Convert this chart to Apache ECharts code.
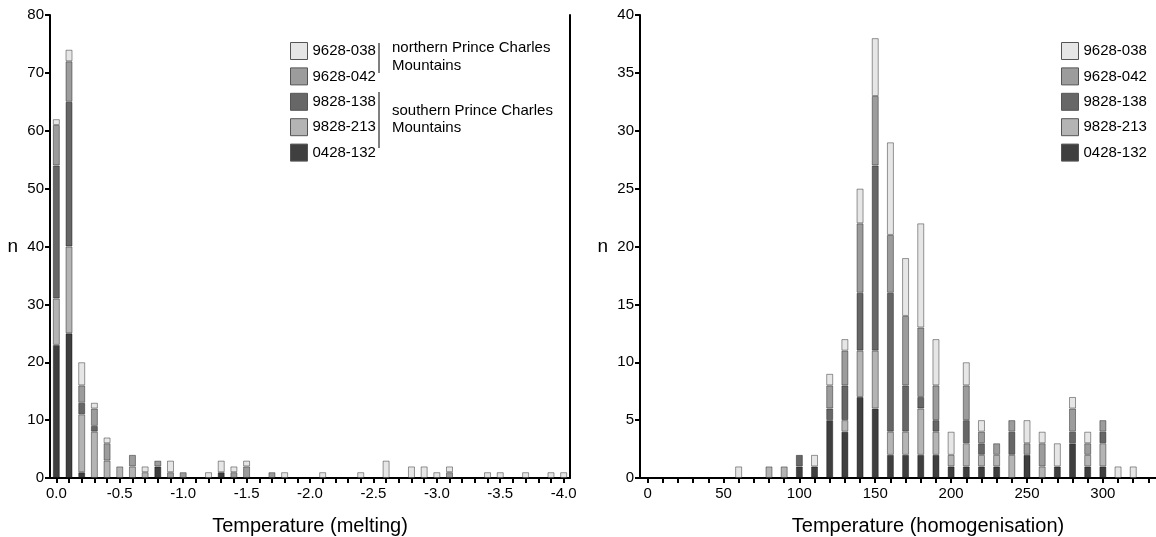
<!DOCTYPE html>
<html>
<head>
<meta charset="utf-8">
<script src="https://cdn.jsdelivr.net/npm/echarts@6/dist/echarts.min.js"></script>
<style>
html,body{margin:0;padding:0;background:#fff;}
#c{width:1156px;height:537px;}
</style>
</head>
<body>
<div id="c"></div>
<script>
// ---------- DATA ----------
var seriesNames = ['9628-038', '9628-042', '9828-138', '9828-213', '0428-132'];
// Left: melting temperature categories 0.0 .. -4.0 step 0.1
var meltCats = ['0.0','-0.1','-0.2','-0.3','-0.4','-0.5','-0.6','-0.7','-0.8','-0.9',
  '-1.0','-1.1','-1.2','-1.3','-1.4','-1.5','-1.6','-1.7','-1.8','-1.9',
  '-2.0','-2.1','-2.2','-2.3','-2.4','-2.5','-2.6','-2.7','-2.8','-2.9',
  '-3.0','-3.1','-3.2','-3.3','-3.4','-3.5','-3.6','-3.7','-3.8','-3.9','-4.0'];
var melt_0428_132 = [23,25,1,0,0,0,0,0,2,0, 0,0,0,1,0,0,0,0,0,0, 0,0,0,0,0,0,0,0,0,0, 0,0,0,0,0,0,0,0,0,0,0];
var melt_9828_213 = [8,15,10,8,3,2,2,1,0,0, 0,0,0,0,0,0,0,0,0,0, 0,0,0,0,0,0,0,0,0,0, 0,0,0,0,0,0,0,0,0,0,0];
var melt_9828_138 = [23,25,2,1,0,0,0,0,0,0, 0,0,0,0,0,0,0,0,0,0, 0,0,0,0,0,0,0,0,0,0, 0,0,0,0,0,0,0,0,0,0,0];
var melt_9628_042 = [7,7,3,3,3,0,2,0,1,1, 1,0,0,0,1,2,0,1,0,0, 0,0,0,0,0,0,0,0,0,0, 0,1,0,0,0,0,0,0,0,0,0];
var melt_9628_038 = [1,2,4,1,1,0,0,1,0,2, 0,0,1,2,1,1,0,0,1,0, 0,1,0,0,1,0,3,0,2,2, 1,1,0,0,1,1,0,1,0,1,1];

// Right: homogenisation temperature categories 0 .. 330 step 10
var homCats = ['0','10','20','30','40','50','60','70','80','90',
  '100','110','120','130','140','150','160','170','180','190',
  '200','210','220','230','240','250','260','270','280','290',
  '300','310','320','330'];
var hom_0428_132 = [0,0,0,0,0,0,0,0,0,0, 1,1,5,4,7,6,2,2,2,2, 1,1,1,1,0,2,0,1,3,1, 1,0,0,0];
var hom_9828_213 = [0,0,0,0,0,0,0,0,1,1, 0,0,0,1,4,5,2,2,4,2, 1,2,1,1,2,0,1,0,0,1, 2,0,0,0];
var hom_9828_138 = [0,0,0,0,0,0,0,0,0,0, 1,0,1,3,5,16,12,4,1,1, 0,2,1,0,2,0,0,0,1,0, 1,0,0,0];
var hom_9628_042 = [0,0,0,0,0,0,0,0,0,0, 0,0,2,3,6,6,5,6,6,3, 0,3,1,1,1,1,2,0,2,1, 1,0,0,0];
var hom_9628_038 = [0,0,0,0,0,0,1,0,0,0, 0,1,1,1,3,5,8,5,9,4, 2,2,1,0,0,2,1,2,1,1, 0,1,1,0];

// ---------- STYLE ----------
var colors = {
  '9628-038': '#e6e6e6',
  '9628-042': '#9c9c9c',
  '9828-138': '#676767',
  '9828-213': '#b4b4b4',
  '0428-132': '#3f3f3f'
};
var FONT = 'Liberation Sans, Arial, Helvetica, sans-serif';

function nz(arr){ return arr.map(function(v){ return v === 0 ? '-' : v; }); }

var meltData = {'0428-132': melt_0428_132, '9828-213': melt_9828_213, '9828-138': melt_9828_138, '9628-042': melt_9628_042, '9628-038': melt_9628_038};
var homData = {'0428-132': hom_0428_132, '9828-213': hom_9828_213, '9828-138': hom_9828_138, '9628-042': hom_9628_042, '9628-038': hom_9628_038};
var stackOrder = ['0428-132', '9828-213', '9828-138', '9628-042', '9628-038'];

var series = [];
stackOrder.forEach(function(name){
  series.push({
    name: name, type: 'bar', stack: 'melt', xAxisIndex: 0, yAxisIndex: 0,
    barWidth: 7, data: nz(meltData[name]),
    itemStyle: {color: colors[name], borderColor: 'rgba(0,0,0,0.4)', borderWidth: 1},
    emphasis: {disabled: true}, animation: false
  });
});
stackOrder.forEach(function(name){
  series.push({
    name: name, type: 'bar', stack: 'hom', xAxisIndex: 1, yAxisIndex: 2,
    barWidth: 7, data: nz(homData[name]),
    itemStyle: {color: colors[name], borderColor: 'rgba(0,0,0,0.4)', borderWidth: 1},
    emphasis: {disabled: true}, animation: false
  });
});

var axisLine = {show: true, lineStyle: {color: '#000', width: 2}};
var axisTick = {show: true, length: 5, inside: false, lineStyle: {color: '#000', width: 2}};
var axisLabel = {color: '#000', fontSize: 15, fontFamily: FONT};

function xCat(grid, cats, name, shift){
  return {
    type: 'category', gridIndex: grid, data: cats, boundaryGap: true,
    axisLine: axisLine,
    axisTick: {show: true, alignWithLabel: true, interval: 0, length: 5, lineStyle: {color: '#000', width: 2}},
    axisLabel: Object.assign({interval: 4, margin: 8}, axisLabel),
    name: name, nameLocation: 'middle', nameGap: 38,
    nameTextStyle: {color: '#000', fontSize: 20, fontFamily: FONT, padding: [0, 0, 0, shift * 2]},
    splitLine: {show: false}
  };
}

var legendBase = {
  orient: 'vertical', itemWidth: 17, itemHeight: 17, itemGap: 7.4,
  icon: 'rect', data: seriesNames, selectedMode: false,
  textStyle: {color: '#000', fontSize: 15, fontFamily: FONT},
  itemStyle: {borderColor: '#555', borderWidth: 1}
};

var option = {
  backgroundColor: '#fff',
  animation: false,
  grid: [
    {left: 50, top: 15, width: 520, height: 463, containLabel: false, outerBoundsMode: 'none'},
    {left: 640, top: 15, width: 516, height: 463, containLabel: false, outerBoundsMode: 'none'}
  ],
  xAxis: [
    xCat(0, meltCats, 'Temperature (melting)', 0),
    xCat(1, homCats, 'Temperature (homogenisation)', 30)
  ],
  yAxis: [
    {type: 'value', gridIndex: 0, min: 0, max: 80, interval: 10,
     axisLine: axisLine, axisTick: axisTick, axisLabel: Object.assign({margin: 6}, axisLabel),
     splitLine: {show: false},
     name: 'n', nameLocation: 'middle', nameRotate: 0, nameGap: 32,
     nameTextStyle: {color: '#000', fontSize: 19, fontFamily: FONT}},
    {type: 'value', gridIndex: 0, position: 'right', min: 0, max: 80, interval: 10,
     axisLine: axisLine, axisTick: {show: false}, axisLabel: {show: false}, splitLine: {show: false}},
    {type: 'value', gridIndex: 1, min: 0, max: 40, interval: 5,
     axisLine: axisLine, axisTick: axisTick, axisLabel: Object.assign({margin: 6}, axisLabel),
     splitLine: {show: false},
     name: 'n', nameLocation: 'middle', nameRotate: 0, nameGap: 32,
     nameTextStyle: {color: '#000', fontSize: 19, fontFamily: FONT}}
  ],
  legend: [
    Object.assign({left: 285, top: 37}, legendBase),
    Object.assign({left: 1056, top: 37}, legendBase)
  ],
  graphic: [
    {type: 'line', shape: {x1: 379, y1: 43, x2: 379, y2: 73}, style: {stroke: '#000', lineWidth: 1}},
    {type: 'line', shape: {x1: 379, y1: 92, x2: 379, y2: 148}, style: {stroke: '#000', lineWidth: 1}},
    {type: 'text', left: 392, top: 39.5, style: {text: 'northern Prince Charles\nMountains', fill: '#000', font: '15px ' + FONT, lineHeight: 17.5}},
    {type: 'text', left: 392, top: 102, style: {text: 'southern Prince Charles\nMountains', fill: '#000', font: '15px ' + FONT, lineHeight: 17.5}}
  ],
  series: series
};

var chart = echarts.init(document.getElementById('c'), null, {renderer: 'canvas'});
chart.setOption(option);
</script>
</body>
</html>
